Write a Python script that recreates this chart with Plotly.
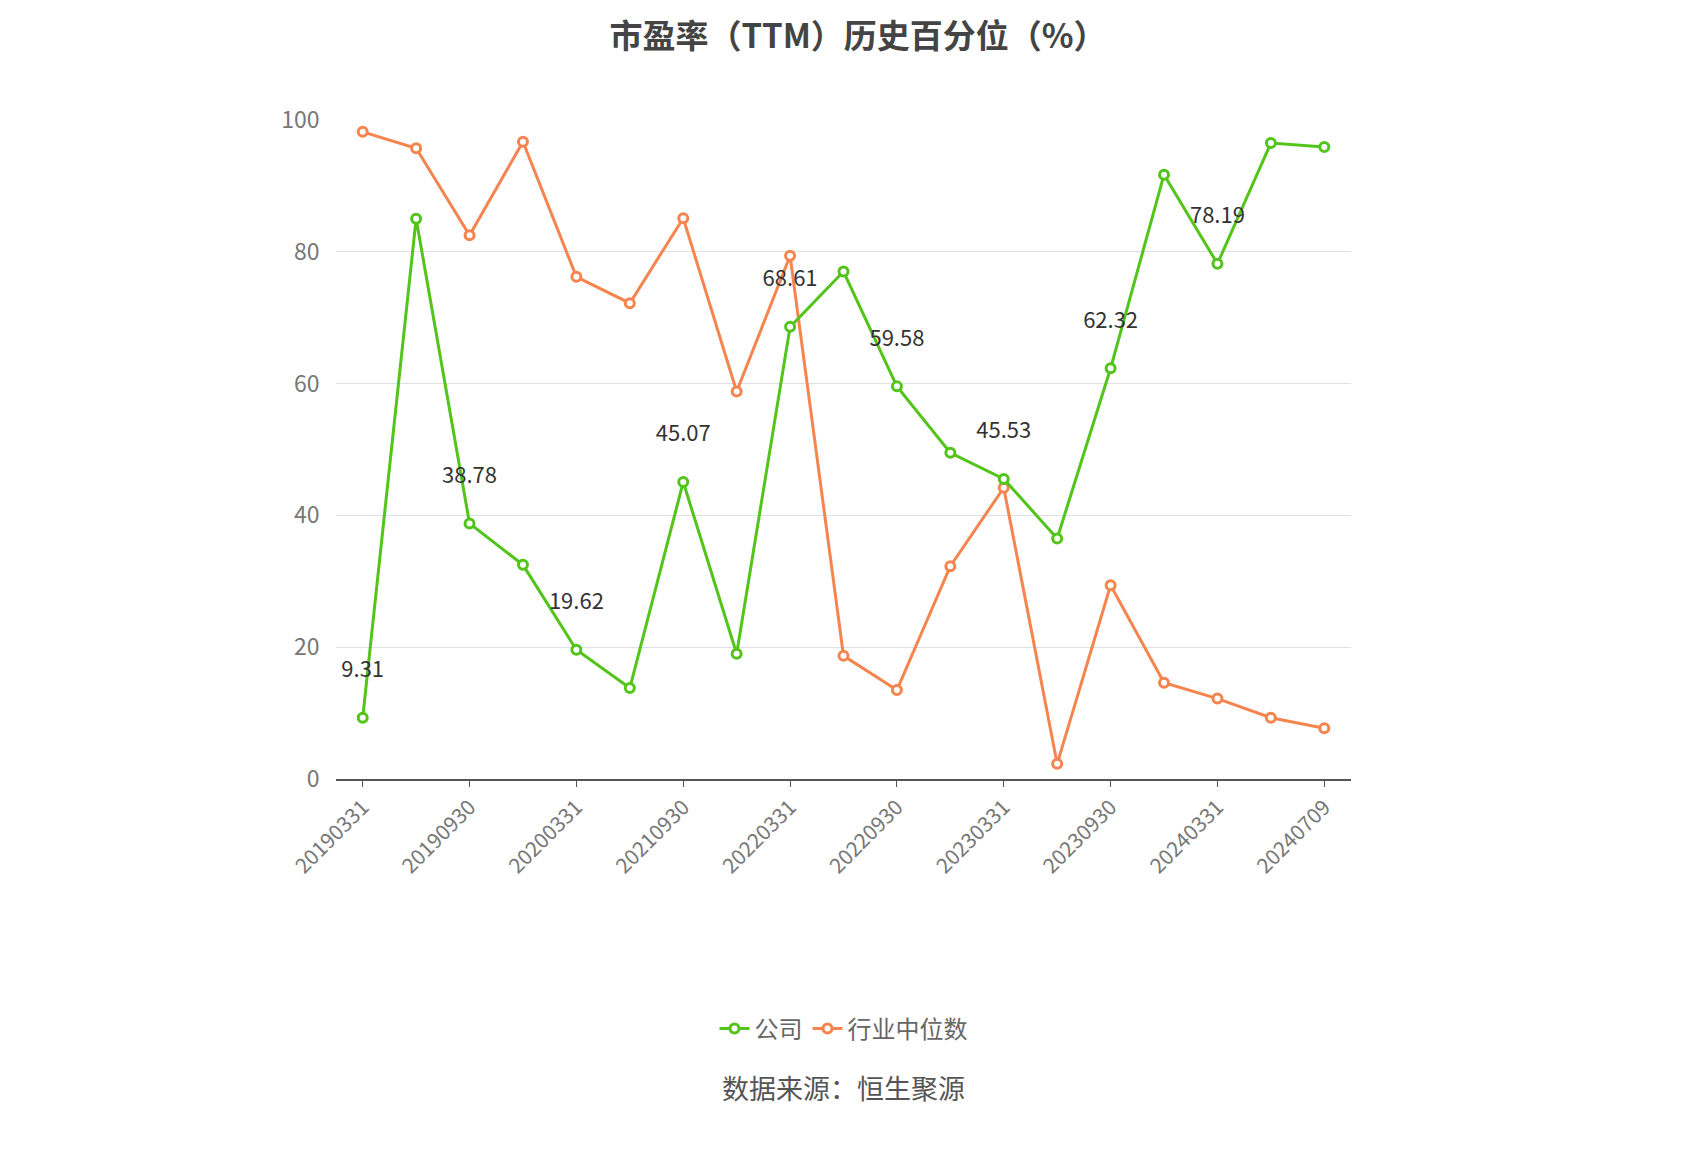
import plotly.graph_objects as go

dates = ["20190331", "20190630", "20190930", "20191231", "20200331", "20210331",
         "20210930", "20211231", "20220331", "20220630", "20220930", "20221231",
         "20230331", "20230630", "20230930", "20231231", "20240331", "20240630", "20240709"]
company = [9.31, 85.0, 38.78, 32.5, 19.62, 13.8, 45.07, 19.0, 68.61, 77.0, 59.58, 49.5,
           45.53, 36.5, 62.32, 91.7, 78.19, 96.5, 95.89]
industry = [98.2, 95.7, 82.5, 96.7, 76.2, 72.2, 85.1, 58.8, 79.4, 18.7, 13.5, 32.3,
            44.2, 2.3, 29.4, 14.6, 12.2, 9.3, 7.7]

labels = [f"{v:.2f}" if i % 2 == 0 else "" for i, v in enumerate(company)]

fig = go.Figure()
fig.add_trace(go.Scatter(
    x=dates, y=industry, name="行业中位数", mode="lines+markers",
    line=dict(color="#f5844f", width=3),
    marker=dict(size=9, color="white", line=dict(color="#f5844f", width=3)),
))
fig.add_trace(go.Scatter(
    x=dates, y=company, name="公司", mode="lines+markers+text",
    text=[l + "<br> " if l else "" for l in labels], textposition="top center",
    textfont=dict(size=22, color="#333"),
    line=dict(color="#52c41a", width=3),
    marker=dict(size=9, color="white", line=dict(color="#52c41a", width=3)),
))

fig.update_layout(
    width=1700, height=1150,
    paper_bgcolor="white", plot_bgcolor="white",
    font=dict(family="Noto Sans CJK SC", color="#666"),
    title=dict(text="<b>市盈率（TTM）历史百分位（%）</b>", x=0.5, y=0.985,
               font=dict(size=33, color="#444")),
    margin=dict(l=328, r=357, t=112, b=379),
    legend=dict(orientation="h", x=0.5, xanchor="center", y=-0.345,
                font=dict(size=24), traceorder="reversed"),
    showlegend=True,
)
fig.update_xaxes(
    type="category", range=[-0.5, 18.5], tickangle=-45,
    tickfont=dict(size=21, color="#777"),
    tickvals=dates[::2], ticks="outside", ticklen=6, tickcolor="#555",
    showline=True, linecolor="#555", linewidth=1.5, showgrid=False,
)
fig.update_yaxes(
    range=[0, 100], dtick=20, tickfont=dict(size=23, color="#777"),
    gridcolor="#dde0ea", zeroline=False, showline=False, ticksuffix="   ",
)
fig.add_annotation(text="数据来源：恒生聚源", xref="paper", yref="paper",
                   x=0.5, y=-0.5, showarrow=False,
                   font=dict(size=27, color="#555"))
fig.write_html("out.html")
